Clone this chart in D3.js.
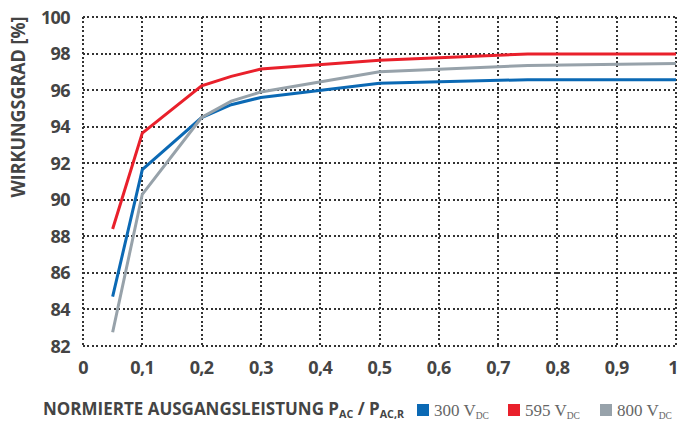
<!DOCTYPE html>
<html><head><meta charset="utf-8">
<script src="https://cdn.jsdelivr.net/npm/d3@7"></script>
<style>
body{margin:0;background:#fff;}
svg{display:block;}
</style></head>
<body>
<svg id="c" width="678" height="427"></svg>
<script>
const xTicks = [0,0.1,0.2,0.3,0.4,0.5,0.6,0.7,0.8,0.9,1];
const yTicks = [82,84,86,88,90,92,94,96,98,100];
const xPoints = [0.05,0.1,0.2,0.25,0.3,0.5,0.75,1];
const v300 = [84.7,91.65,94.5,95.2,95.6,96.38,96.57,96.57];
const v595 = [88.4,93.65,96.23,96.75,97.15,97.63,97.98,97.98];
const v800 = [82.75,90.3,94.5,95.4,95.9,97.0,97.35,97.46];
const seriesNames = ["300","595","800"];
const seriesColors = ["#0b69b4","#e9202b","#97a2aa"];

const svg = d3.select("#c");
const L=83, R=676, T=17, B=346;
const x = d3.scaleLinear().domain([0,1]).range([L,R]);
const y = d3.scaleLinear().domain([82,100]).range([B,T]);

const grid = svg.append("g").attr("stroke","#333").attr("stroke-width",2)
  .attr("stroke-dasharray","2,2.4").attr("fill","none").attr("shape-rendering","crispEdges");
xTicks.forEach(d=>{
  const xx = Math.round(x(d));
  grid.append("line").attr("x1",xx).attr("x2",xx).attr("y1",T).attr("y2",B);
});
yTicks.forEach(d=>{
  const yy = Math.round(y(d));
  grid.append("line").attr("x1",L).attr("x2",R).attr("y1",yy).attr("y2",yy);
});

const fmt = d=> d===0?"0":d===1?"1":String(d).replace(".",",");
const tickFont = "'Open Sans', sans-serif";
svg.append("g").selectAll("text").data(xTicks).join("text")
  .attr("x",d=>d===1?678:x(d)).attr("y",374).attr("text-anchor",d=>d===1?"end":"middle")
  .attr("font-family",tickFont).attr("font-weight",700).attr("font-size",18)
  .attr("fill","#444").attr("letter-spacing","-0.6").text(fmt);
svg.append("g").selectAll("text").data(yTicks).join("text")
  .attr("x",70).attr("y",d=>y(d)+6.5).attr("text-anchor","end")
  .attr("font-family",tickFont).attr("font-weight",700).attr("font-size",18)
  .attr("fill","#444").attr("letter-spacing","-0.6").text(d=>d);

svg.append("text").attr("transform","translate(25,107) rotate(-90)")
  .attr("text-anchor","middle").attr("font-family",tickFont).attr("font-weight",700)
  .attr("font-size",19.5).attr("fill","#444")
  .attr("textLength",181).attr("lengthAdjust","spacingAndGlyphs").text("WIRKUNGSGRAD [%]");

const line = d3.line().x((d,i)=>x(xPoints[i])).y(d=>y(d));
[v300,v595,v800].forEach((vals,k)=>{
  svg.append("path").datum(vals).attr("d",line).attr("fill","none")
    .attr("stroke",seriesColors[k]).attr("stroke-width",3);
});

// x title, one text element, condensed via textLength
const tt = svg.append("text").attr("x",43).attr("y",415)
  .attr("font-family",tickFont).attr("font-weight",700).attr("font-size",17.5).attr("fill","#444")
  .attr("textLength",361).attr("lengthAdjust","spacingAndGlyphs");
tt.append("tspan").text("NORMIERTE AUSGANGSLEISTUNG P");
tt.append("tspan").attr("font-size",11).attr("dy",3).text("AC");
tt.append("tspan").attr("dy",-3).text(" / P");
tt.append("tspan").attr("font-size",11).attr("dy",3).text("AC,R");

// legend
const legX = [417,508,600];
seriesNames.forEach((n,k)=>{
  svg.append("rect").attr("x",legX[k]).attr("y",404).attr("width",12).attr("height",12).attr("fill",seriesColors[k]);
  const t = svg.append("text").attr("x",legX[k]+17).attr("y",416)
    .attr("font-family","'Liberation Serif',serif").attr("font-size",17).attr("fill","#666");
  t.append("tspan").text(n+" V");
  t.append("tspan").attr("font-size",9.5).attr("dy",2.5).text("DC");
});
</script>
</body></html>
